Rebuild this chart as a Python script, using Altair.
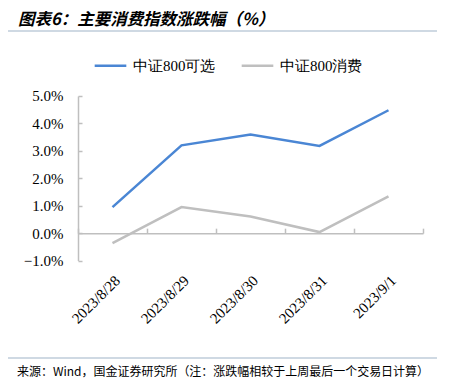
import altair as alt
import pandas as pd

dates = ["2023/8/28", "2023/8/29", "2023/8/30", "2023/8/31", "2023/9/1"]
series_names = ["中证800可选", "中证800消费"]
kexuan = [0.95, 3.20, 3.60, 3.18, 4.48]
xiaofei = [-0.36, 0.95, 0.61, 0.04, 1.34]
y_ticks = [-1, 0, 1, 2, 3, 4, 5]
colors = ["#4a86d4", "#bfbfbf"]

title_text = "图表6：主要消费指数涨跌幅（%）"
source_text = "来源：Wind，国金证券研究所（注：涨跌幅相较于上周最后一个交易日计算）"

rows = []
for d, a, b in zip(dates, kexuan, xiaofei):
    rows.append({"date": d, "series": series_names[0], "value": a})
    rows.append({"date": d, "series": series_names[1], "value": b})
df = pd.DataFrame(rows)

W, H = 345, 164.6
SERIF = "Liberation Serif"
AXIS_GRAY = "#bfbfbf"

xscale = alt.Scale(type="band", domain=dates, paddingInner=0, paddingOuter=0)
yscale = alt.Scale(domain=[-1, 5], nice=False, zero=False)

lines = alt.Chart(df).mark_line(strokeWidth=2.5).encode(
    x=alt.X("date:N", scale=xscale, bandPosition=0.5, sort=dates,
            axis=alt.Axis(title=None, domain=False, ticks=False, labelAngle=-45,
                          labelFont=SERIF, labelFontSize=15, labelColor="#000",
                          labelPadding=12)),
    y=alt.Y("value:Q", scale=yscale,
            axis=alt.Axis(title=None, values=y_ticks, grid=False, ticks=False, tickSize=0,
                          domainColor=AXIS_GRAY, domainWidth=1.5,
                          labelExpr="format(datum.value, '.1f') + '%'",
                          labelFont=SERIF, labelFontSize=15, labelColor="#000",
                          labelPadding=15)),
    color=alt.Color("series:N", scale=alt.Scale(domain=series_names, range=colors),
                    legend=alt.Legend(title=None, orient="none", legendX=15, legendY=-48,
                                      direction="horizontal", symbolType="stroke",
                                      symbolSize=1000, symbolStrokeWidth=2.5,
                                      labelFont=SERIF, labelFontSize=15, labelColor="#000",
                                      labelOffset=5, columnPadding=20)),
)

axes_helper = alt.Chart(df).mark_point(opacity=0).encode(
    x=alt.X("date:N", scale=xscale, sort=dates,
            axis=alt.Axis(title=None, orient="top", offset=-H * 5 / 6, labels=False,
                          domainColor=AXIS_GRAY, domainWidth=1.5, tickColor=AXIS_GRAY,
                          tickWidth=1.5, tickSize=5, tickBand="extent")),
    y=alt.Y("value:Q", scale=yscale,
            axis=alt.Axis(title=None, orient="right", offset=-W, values=y_ticks, labels=False,
                          grid=False, domain=False, tickColor=AXIS_GRAY, tickWidth=1.5,
                          tickSize=4)),
)

title_mark = alt.Chart(pd.DataFrame({"t": [title_text]})).mark_text(
    align="left", baseline="middle", font="Noto Sans CJK SC", fontSize=16.5,
    fontWeight="bold", fontStyle="italic", color="#000"
).encode(x=alt.value(-60), y=alt.value(-76), text="t:N")

source_mark = alt.Chart(pd.DataFrame({"t": [source_text]})).mark_text(
    align="left", baseline="middle", font="Noto Sans CJK SC", fontSize=12, color="#000"
).encode(x=alt.value(-61), y=alt.value(276), text="t:N")

rule_top = alt.Chart(pd.DataFrame({"a": [0]})).mark_rule(color="#9fb4c7", strokeWidth=1.2).encode(
    x=alt.value(-78), x2=alt.value(359), y=alt.value(-65))
rule_bot = alt.Chart(pd.DataFrame({"a": [0]})).mark_rule(color="#9fb4c7", strokeWidth=1.2).encode(
    x=alt.value(-78), x2=alt.value(359), y=alt.value(262))

chart = alt.layer(axes_helper, lines, title_mark, source_mark, rule_top, rule_bot).resolve_scale(
    x="independent", y="independent"
).properties(
    width=W, height=H,
    autosize=alt.AutoSizeParams(type="none"),
    padding={"left": 70, "top": 88, "right": 19, "bottom": 123},
).configure_view(stroke=None)

chart.save("out.html", embed_options={"renderer": "svg", "actions": False})
